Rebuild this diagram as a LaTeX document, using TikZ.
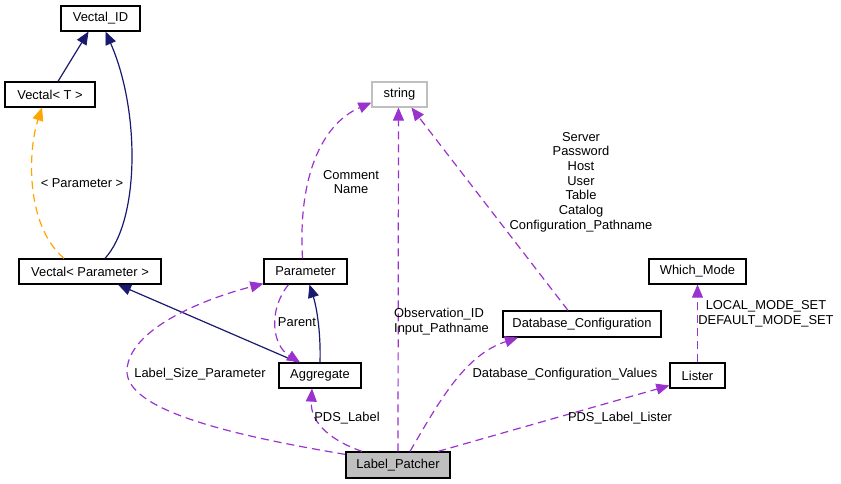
\documentclass[tikz,border=0pt]{standalone}
\usepackage{fontspec}
\setmainfont{Liberation Sans}
\usetikzlibrary{arrows.meta}
\definecolor{navyc}{HTML}{191970}
\definecolor{purplec}{HTML}{9A32CD}
\definecolor{orangec}{HTML}{FFA500}
\definecolor{grayfill}{HTML}{BFBFBF}
\tikzset{
  box/.style={draw=black, line width=1.2pt, fill=white, inner sep=0pt, minimum height=25pt, font=\fontsize{12.9}{14.7}\selectfont},
  lbl/.style={inner sep=0pt, align=center, font=\fontsize{12.9}{14.7}\selectfont},
  inherit/.style={draw=navyc, line width=1.2pt, -{Triangle[length=13pt,width=11pt,fill=navyc,line width=0.8pt]}},
  usage/.style={draw=purplec, line width=1.2pt, dash pattern=on 8pt off 5pt, -{Triangle[length=13pt,width=11pt,fill=purplec,line width=0.8pt]}},
  templ/.style={draw=orangec, line width=1.2pt, dash pattern=on 8pt off 5pt, -{Triangle[length=13pt,width=11pt,fill=orangec,line width=0.8pt]}}
}
\begin{document}
\begin{tikzpicture}[x=1pt,y=-1pt]
\useasboundingbox (0,0) rectangle (841,484);
% nodes
\node[box, minimum width=79pt] (vid) at (100.5,18.5) {Vectal\_ID};
\node[box, minimum width=90pt] (vt) at (50,94.5) {Vectal< T >};
\node[box, minimum width=142pt] (vp) at (90,271.5) {Vectal< Parameter >};
\node[box, draw=grayfill, minimum width=55pt] (str) at (399.5,94.5) {string};
\node[box, minimum width=83pt] (par) at (305.5,271.5) {Parameter};
\node[box, minimum width=82pt] (agg) at (320,375.5) {Aggregate};
\node[box, fill=grayfill, minimum width=104pt, minimum height=26pt] (lp) at (398,465) {Label\_Patcher};
\node[box, minimum width=158pt, minimum height=26pt] (dc) at (582,324) {Database\_Configuration};
\node[box, minimum width=97pt] (wm) at (697.5,271.5) {Which\_Mode};
\node[box, minimum width=55pt] (lis) at (697.5,375.5) {Lister};
% edges
\draw[inherit] ([xshift=8pt]vt.north) -- ([xshift=-12pt]vid.south);
\draw[inherit] ([xshift=15pt]vp.north) .. controls (140,220) and (140,110) .. ([xshift=5pt]vid.south);
\draw[templ] ([xshift=-26pt]vp.north) .. controls (25,225) and (28,150) .. ([xshift=-8pt]vt.south);
\node[lbl] (lt) at (82,183) {< Parameter >};
\draw[inherit] ([xshift=-22pt]agg.north) -- ([xshift=28pt]vp.south);
\draw[inherit] (agg.north) .. controls (321,330) and (316,305) .. ([xshift=4pt]par.south);
\draw[usage] ([xshift=-17pt]par.south) .. controls (268,310) and (272,345) .. ([xshift=-20pt]agg.north);
\node[lbl] (lparent) at (297,322) {Parent};
\draw[usage] ([xshift=-3pt]par.north) .. controls (298,180) and (320,125) .. ([yshift=-8pt]str.west);
\node[lbl] (lcn) at (351,182) {Comment\\Name};
\draw[usage] (lp.north) -- ([xshift=-1pt]str.south);
\node[lbl, anchor=west, align=left] (lobs) at (394,322) {Observation\_ID\\Input\_Pathname};
\draw[usage] ([xshift=-14pt]dc.north) -- ([xshift=12pt]str.south);
\node[lbl] (lsrv) at (581,182) {Server\\Password\\Host\\User\\Table\\Catalog\\Configuration\_Pathname};
\draw[usage] ([yshift=-3pt]lp.north west) .. controls (230,435) and (125,410) .. (127,370) .. controls (129,330) and (200,300) .. ([yshift=1pt]par.south west);
\node[lbl] (llsp) at (200,374) {Label\_Size\_Parameter};
\draw[usage] ([xshift=-36pt]lp.north) .. controls (335,442) and (310,425) .. ([xshift=-8pt]agg.south);
\node[lbl] (lpds) at (347,418) {PDS\_Label};
\draw[usage] ([xshift=12pt]lp.north) .. controls (440,400) and (465,355) .. ([xshift=-64pt]dc.south);
\node[lbl] (ldcv) at (565,374) {Database\_Configuration\_Values};
\draw[usage] ([xshift=40pt]lp.north) -- ([yshift=-10pt]lis.west);
\node[lbl] (lpll) at (620,418) {PDS\_Label\_Lister};
\draw[usage] (lis.north) -- (wm.south);
\node[lbl] (lmode) at (766,314) {LOCAL\_MODE\_SET\\DEFAULT\_MODE\_SET};
\end{tikzpicture}
\end{document}
